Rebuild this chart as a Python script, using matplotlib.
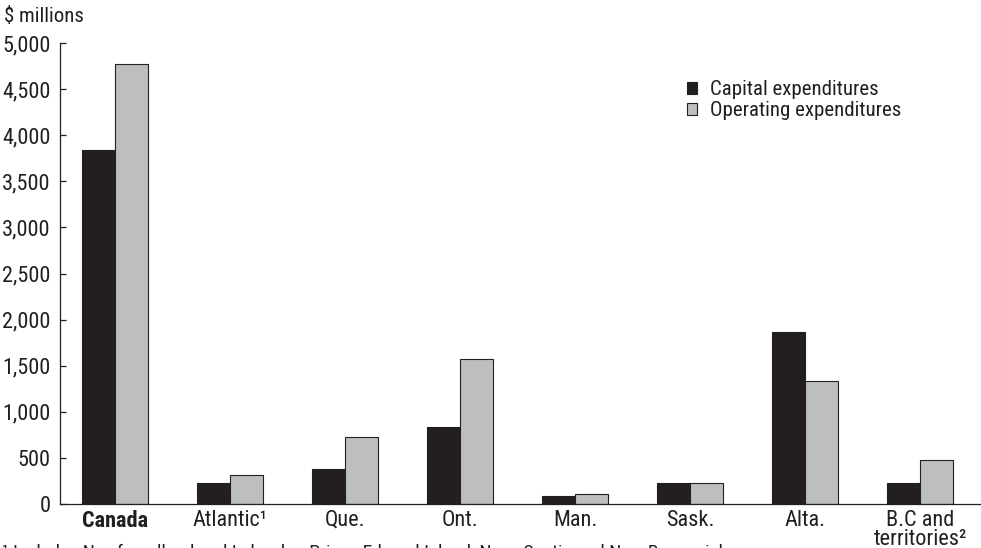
import matplotlib
matplotlib.use('Agg')
import matplotlib.pyplot as plt
import numpy as np

# 数据
regions = ['Canada', 'Atlantic¹', 'Que.', 'Ont.', 'Man.', 'Sask.', 'Alta.', 'B.C and\nterritories²']
capital = [3840, 231, 377, 832, 87, 231, 1870, 231]
operating = [4775, 311, 727, 1577, 105, 224, 1332, 478]
series_names = ['Capital expenditures', 'Operating expenditures']
yticks = [0, 500, 1000, 1500, 2000, 2500, 3000, 3500, 4000, 4500, 5000]

plt.rcParams['font.family'] = ['Roboto Condensed', 'Liberation Sans Narrow', 'Liberation Sans', 'DejaVu Sans']
dark = '#231f20'
grey = '#bcbec0'

fig = plt.figure(figsize=(9.81, 5.48), dpi=100)
ax = fig.add_axes([0.0612, 0.0803, 0.9388, 0.8412])

x = np.arange(len(regions))
w = 0.287
ax.bar(x - w / 2, capital, w, color=dark, edgecolor=dark, linewidth=0.8, label=series_names[0])
ax.bar(x + w / 2, operating, w, color=grey, edgecolor=dark, linewidth=0.8, label=series_names[1])

ax.set_xlim(-0.478, 7.53)
ax.set_ylim(0, 5000)
ax.set_yticks(yticks)
ax.set_yticklabels([f'{v:,}' for v in yticks], fontsize=16, color=dark)
ax.tick_params(axis='y', direction='in', length=4, width=0.9, color=dark, pad=7)
ax.set_xticks(x)
ax.set_xticklabels(regions, fontsize=16, color=dark, linespacing=0.88)
ax.get_xticklabels()[0].set_fontweight('bold')
ax.tick_params(axis='x', length=0, pad=4)

for s in ['top', 'right']:
    ax.spines[s].set_visible(False)
for s in ['left', 'bottom']:
    ax.spines[s].set_color(dark)
    ax.spines[s].set_linewidth(0.9)

leg = ax.legend(loc='upper left', bbox_to_anchor=(0.66, 0.96), frameon=False,
                fontsize=15, handlelength=0.5, handleheight=0.5,
                handletextpad=0.6, labelspacing=0.1)
for t in leg.get_texts():
    t.set_color(dark)

fig.text(0.004, 0.988, '$ millions', fontsize=15, color=dark, va='top', ha='left')
fig.text(0.002, 0.008, '¹ Includes Newfoundland and Labrador, Prince Edward Island, Nova Scotia and New Brunswick.',
         fontsize=14, color=dark, va='top', ha='left')

fig.savefig('out.png', dpi=100)
